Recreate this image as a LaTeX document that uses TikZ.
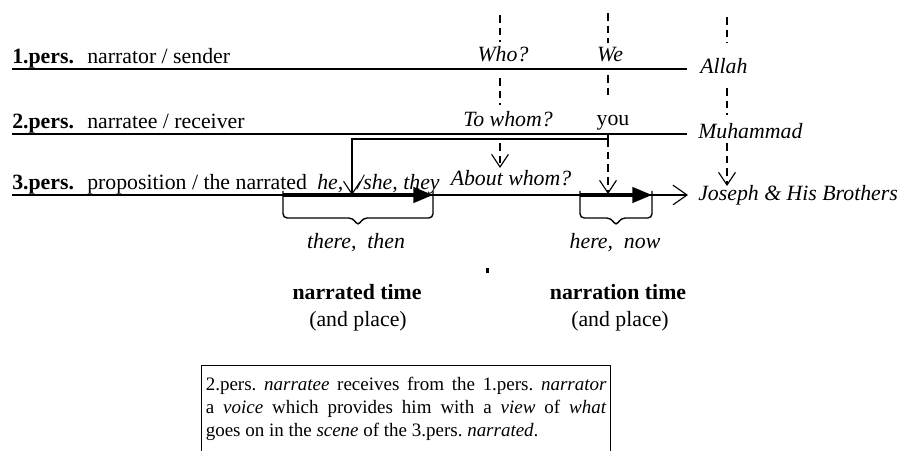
\documentclass[tikz,border=0pt]{standalone}
\usepackage{fontspec}
\setmainfont{Liberation Serif}
\usetikzlibrary{arrows.meta}
\frenchspacing

\begin{document}
\begin{tikzpicture}[x=0.025cm,y=-0.025cm]
	\tikzstyle{txt}=[inner sep=0pt,font=\fontsize{15.5}{18}\selectfont]
	\tikzstyle{ital}=[txt,font=\fontsize{15.5}{18}\selectfont\itshape]
	\tikzstyle{bld}=[txt,font=\fontsize{15.5}{18}\selectfont\bfseries]
	\tikzstyle{ln}=[line width=1pt]
	\tikzstyle{dsh}=[line width=1.8pt,dash pattern=on 5.5pt off 3.5pt]
	\tikzstyle{varr}=[-{Straight Barb[length=9pt,width=12pt,line width=0.8pt]}]
	\tikzstyle{fat}=[line width=2.2pt,-{Triangle[length=14pt,width=11pt]}]

	\clip (0,0) rectangle (909,451);

	% the three persons
	\node[bld,anchor=base west] (P1) at (12,64) {1.pers.};
	\node[txt,anchor=base west] (N1) at (87,64) {narrator / sender};
	\node[bld,anchor=base west] (P2) at (12,129) {2.pers.};
	\node[txt,anchor=base west] (N2) at (87,129) {narratee / receiver};
	\node[bld,anchor=base west] (P3) at (12,190) {3.pers.};
	\node[txt,anchor=base west] (N3) at (87,190) {proposition / the narrated};
	\node[ital,anchor=base west] (he) at (317,190) {he,};
	\node[ital,anchor=base west] (she) at (357,190) {/she, they};

	\coordinate (L1a) at (12,69);  \coordinate (L1b) at (687,69);
	\coordinate (L2a) at (12,134); \coordinate (L2b) at (687,134);
	\coordinate (L3a) at (12,195); \coordinate (L3b) at (688,195);
	\draw[ln] (L1a) -- (L1b);
	\draw[ln] (L2a) -- (L2b);
	\draw[ln,-{Straight Barb[length=10pt,width=14pt,line width=0.8pt]}] (L3a) -- (L3b);

	% questions and answers
	\node[ital,anchor=base] (who) at (503,62) {Who?};
	\node[ital,anchor=base] (we) at (610,62) {We};
	\node[ital,anchor=base] (towhom) at (508,127) {To whom?};
	\node[txt,anchor=base] (you) at (613,126) {you};
	\node[ital,anchor=base] (about) at (511,186) {About whom?};

	\node[ital,anchor=base west] (allah) at (700,74) {Allah};
	\node[ital,anchor=base west] (muh) at (698,139) {Muhammad};
	\node[ital,anchor=base west] (jos) at (698,201) {Joseph \& His Brothers};

	\foreach \n/\x/\ya/\yb in {1/500/15/42, 2/500/78/105, 3/608/13/43, 4/608/75/100, 5/727/17/43, 6/727/88/115} {
		\coordinate (d\n a) at (\x,\ya);
		\coordinate (d\n b) at (\x,\yb);
		\draw[dsh] (d\n a) -- (d\n b);
	}
	\coordinate (ea) at (500,143); \coordinate (eb) at (500,168);
	\coordinate (fa) at (608,139); \coordinate (fb) at (608,194);
	\coordinate (ga) at (727,143); \coordinate (gb) at (727,186);
	\draw[dsh,varr] (ea) -- (eb);
	\draw[dsh,varr] (fa) -- (fb);
	\draw[dsh,varr] (ga) -- (gb);

	% from you back to he/she
	\coordinate (yb) at (608,134);
	\coordinate (hs) at (352,195);
	\draw[ln,varr] (yb) -- (fa) -| (hs);

	% time spans
	\coordinate (ta1) at (283,195); \coordinate (tb1) at (433,195);
	\coordinate (ta2) at (580,195); \coordinate (tb2) at (652,195);
	\draw[fat] (ta1) -- (tb1);
	\draw[fat] (ta2) -- (tb2);
	\foreach \a/\b in {283/433, 580/652}
		\draw[ln,rounded corners=3pt] (\a,191) -- (\a,218) -- ({(\a+\b)/2-5},218) -- ({(\a+\b)/2},226) -- ({(\a+\b)/2+5},218) -- (\b,218) -- (\b,191);

	\node[ital,anchor=base] (there) at (356,249) {there,~ then};
	\node[ital,anchor=base] (here) at (615,249) {here,~ now};
	\fill (486,268) rectangle (489,273);

	\node[bld,anchor=base] (T1) at (357,300) {narrated time};
	\node[txt,anchor=base] (A1) at (358,327) {(and place)};
	\node[bld,anchor=base] (T2) at (618,300) {narration time};
	\node[txt,anchor=base] (A2) at (620,327) {(and place)};

	% explanation box
	\node[draw,line width=0.8pt,anchor=north west,inner xsep=3pt,inner ysep=6pt,text width=285pt,text height=12pt,text depth=70pt,align=justify,font=\fontsize{13.5}{16.3}\selectfont] (box) at (201,365) {2.pers. \emph{narratee} receives from the 1.pers. \emph{narrator}\linebreak a \emph{voice} which provides him with a \emph{view} of \emph{what}\linebreak goes on in the \emph{scene} of the 3.pers. \emph{narrated}.};
\end{tikzpicture}
\end{document}
